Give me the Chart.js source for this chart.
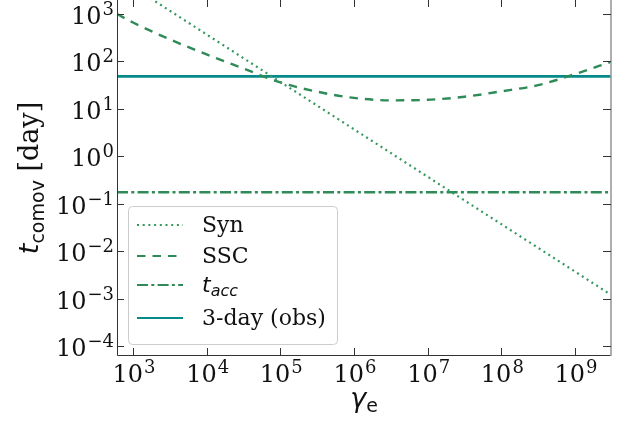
<!DOCTYPE html>
<html>
<head>
<meta charset="utf-8">
<script src="https://cdn.jsdelivr.net/npm/chart.js@4/dist/chart.umd.min.js"></script>
<style>
  html, body { margin: 0; padding: 0; background: #fff; }
  #wrap { width: 635px; height: 425px; }
</style>
</head>
<body>
<div id="wrap"><canvas id="c" width="635" height="425"></canvas></div>
<script>
// Electron Lorentz factor grid and cooling / acceleration timescales (comoving frame, days)
const synGamma = [607, 1e3, 1e4, 1e5, 1e6, 1e7, 1e8, 1e9, 3.08e9];
const synTime  = [6100, 3700, 370, 37, 3.7, 0.37, 0.037, 0.0037, 0.0012];

const sscGamma = [607, 1e3, 3.16e3, 1e4, 3.16e4, 1e5, 3.16e5, 1e6, 3.16e6, 1e7, 3.16e7, 1e8, 3.16e8, 1e9, 3.08e9];
const sscTime  = [1000, 660, 292, 140, 71, 36, 23, 17, 15.1, 15.5, 18, 23.4, 31.6, 54, 98];

const accGamma = [607, 3.08e9];
const accTime  = [0.174, 0.174];

const obsGamma = [607, 3.08e9];
const obsTime  = [48.3, 48.3];

// Axis decades
const xDecades = [3, 4, 5, 6, 7, 8, 9];
const yDecades = [3, 2, 1, 0, -1, -2, -3, -4];

const GREEN = '#2e8b57';
const SYN_GREEN = '#36985f';
const TEAL = '#058a8a';

function pts(xs, ys) { return xs.map((x, i) => ({ x: x, y: ys[i] })); }

const SERIF = '"DejaVu Serif", serif';
const SANS = '"DejaVu Sans", sans-serif';

function supText(n) { return n < 0 ? '\u2212' + Math.abs(n) : String(n); }

// "10" with a raised exponent
function drawPow(ctx, exp, x, baseY, align) {
  const baseFont = '24px ' + SERIF, supFont = '18px ' + SERIF;
  ctx.font = baseFont;
  const wb = ctx.measureText('10').width;
  ctx.font = supFont;
  const es = supText(exp);
  const ws = ctx.measureText(es).width;
  const gap = 1;
  const total = wb + gap + ws;
  let left = x;
  if (align === 'right') left = x - total;
  else if (align === 'center') left = x - total / 2;
  ctx.textAlign = 'left';
  ctx.textBaseline = 'alphabetic';
  ctx.fillStyle = '#111';
  ctx.font = baseFont;
  ctx.fillText('10', left, baseY);
  ctx.font = supFont;
  ctx.fillText(es, left + wb + gap, baseY - 9);
  return total;
}

const axesPlugin = {
  id: 'axesFrame',
  afterDraw(chart) {
    const ctx = chart.ctx;
    const xs = chart.scales.x, ys = chart.scales.y;
    const a = chart.chartArea;
    ctx.save();

    // spines
    ctx.lineWidth = 1;
    ctx.strokeStyle = '#333';
    ctx.beginPath();
    ctx.moveTo(a.left + 0.5, a.top - 1);
    ctx.lineTo(a.left + 0.5, a.bottom + 0.5);
    ctx.lineTo(a.right, a.bottom + 0.5);
    ctx.stroke();
    ctx.strokeStyle = '#9a9a9a';
    ctx.lineWidth = 1.6;
    ctx.beginPath();
    ctx.moveTo(a.right, a.top - 1);
    ctx.lineTo(a.right, a.bottom + 1);
    ctx.stroke();

    // inward ticks on all four sides
    ctx.strokeStyle = '#333';
    ctx.lineWidth = 1;
    const tl = 7;
    xDecades.forEach(d => {
      const px = Math.round(xs.getPixelForValue(Math.pow(10, d))) + 0.5;
      ctx.beginPath();
      ctx.moveTo(px, a.bottom); ctx.lineTo(px, a.bottom - tl);
      ctx.moveTo(px, a.top); ctx.lineTo(px, a.top + tl);
      ctx.stroke();
    });
    yDecades.forEach(d => {
      const py = Math.round(ys.getPixelForValue(Math.pow(10, d))) + 0.5;
      ctx.beginPath();
      ctx.moveTo(a.left, py); ctx.lineTo(a.left + tl, py);
      ctx.moveTo(a.right, py); ctx.lineTo(a.right - tl - 1, py);
      ctx.stroke();
    });

    // tick labels
    xDecades.forEach(d => {
      const px = xs.getPixelForValue(Math.pow(10, d));
      drawPow(ctx, d, px + 1, a.bottom + 27, 'center');
    });
    yDecades.forEach(d => {
      const py = ys.getPixelForValue(Math.pow(10, d));
      drawPow(ctx, d, a.left - 3, py + 10, 'right');
    });

    // x title: gamma_e
    ctx.fillStyle = '#111';
    ctx.textBaseline = 'alphabetic';
    ctx.textAlign = 'left';
    ctx.font = 'oblique 27px ' + SANS;
    const wg = ctx.measureText('\u03b3').width;
    ctx.font = '19px ' + SANS;
    const we = ctx.measureText('e').width;
    const cx = (a.left + a.right) / 2;
    let lx = cx - (wg + we) / 2;
    ctx.font = 'oblique 27px ' + SANS;
    ctx.fillText('\u03b3', lx, 407);
    ctx.font = '19px ' + SANS;
    ctx.fillText('e', lx + wg, 412);

    // y title: t_comov [day], rotated
    ctx.save();
    ctx.translate(38, 178);
    ctx.rotate(-Math.PI / 2);
    ctx.font = 'oblique 27px ' + SANS;
    const wt = ctx.measureText('t').width;
    ctx.font = '19px ' + SANS;
    const wc = ctx.measureText('comov').width;
    ctx.font = '27px ' + SERIF;
    const wsp = ctx.measureText(' ').width;
    const wd = ctx.measureText('[day]').width;
    const tot = wt + wc + wsp + wd;
    let sx = -tot / 2;
    ctx.font = 'oblique 27px ' + SANS;
    ctx.fillText('t', sx, 0);
    sx += wt;
    ctx.font = '19px ' + SANS;
    ctx.fillText('comov', sx, 6);
    sx += wc + wsp;
    ctx.font = '27px ' + SERIF;
    ctx.fillText('[day]', sx, 0);
    ctx.restore();

    // legend
    const lgX = 128.5, lgY = 206.5, lgW = 209, lgH = 138, r = 4;
    ctx.beginPath();
    ctx.moveTo(lgX + r, lgY);
    ctx.lineTo(lgX + lgW - r, lgY);
    ctx.arcTo(lgX + lgW, lgY, lgX + lgW, lgY + r, r);
    ctx.lineTo(lgX + lgW, lgY + lgH - r);
    ctx.arcTo(lgX + lgW, lgY + lgH, lgX + lgW - r, lgY + lgH, r);
    ctx.lineTo(lgX + r, lgY + lgH);
    ctx.arcTo(lgX, lgY + lgH, lgX, lgY + lgH - r, r);
    ctx.lineTo(lgX, lgY + r);
    ctx.arcTo(lgX, lgY, lgX + r, lgY, r);
    ctx.closePath();
    ctx.fillStyle = 'rgba(255,255,255,0.85)';
    ctx.fill();
    ctx.strokeStyle = '#cccccc';
    ctx.lineWidth = 1;
    ctx.stroke();

    const rows = [225, 256, 285, 318];
    chart.data.datasets.forEach((ds, i) => {
      const y = rows[i];
      ctx.save();
      ctx.strokeStyle = ds.borderColor;
      ctx.lineWidth = Math.min(ds.borderWidth, 2);
      ctx.setLineDash(ds.borderDash || []);
      ctx.lineCap = 'butt';
      ctx.beginPath();
      ctx.moveTo(137, y); ctx.lineTo(183, y);
      ctx.stroke();
      ctx.restore();
      ctx.fillStyle = '#111';
      ctx.textAlign = 'left';
      ctx.textBaseline = 'alphabetic';
      if (ds.label === 't_acc') {
        ctx.font = 'oblique 22px ' + SANS;
        ctx.fillText('t', 202, y + 7);
        const w = ctx.measureText('t').width;
        ctx.font = 'oblique 16px ' + SANS;
        ctx.fillText('acc', 202 + w, y + 11);
      } else {
        ctx.font = '22px ' + SERIF;
        ctx.fillText(ds.label, 202, y + 7);
      }
    });

    ctx.restore();
  }
};

new Chart(document.getElementById('c'), {
  type: 'line',
  data: {
    datasets: [
      { label: 'Syn', data: pts(synGamma, synTime), borderColor: SYN_GREEN, borderWidth: 2.2, borderDash: [2, 3.7], pointRadius: 0, tension: 0 },
      { label: 'SSC', data: pts(sscGamma, sscTime), borderColor: GREEN, borderWidth: 2.4, borderDash: [8.5, 7], pointRadius: 0, cubicInterpolationMode: 'monotone' },
      { label: 't_acc', data: pts(accGamma, accTime), borderColor: GREEN, borderWidth: 2.4, borderDash: [11, 3.3, 3, 3.3], pointRadius: 0 },
      { label: '3-day (obs)', data: pts(obsGamma, obsTime), borderColor: TEAL, borderWidth: 2.7, pointRadius: 0 }
    ]
  },
  options: {
    responsive: false,
    animation: false,
    layout: { padding: { left: 117, right: 24, top: 0, bottom: 70 } },
    scales: {
      x: { type: 'logarithmic', min: 607, max: 3.08e9, display: false },
      y: { type: 'logarithmic', min: 6.45e-5, max: 1972, display: false }
    },
    plugins: { legend: { display: false }, tooltip: { enabled: false } }
  },
  plugins: [axesPlugin]
});
</script>
</body>
</html>
